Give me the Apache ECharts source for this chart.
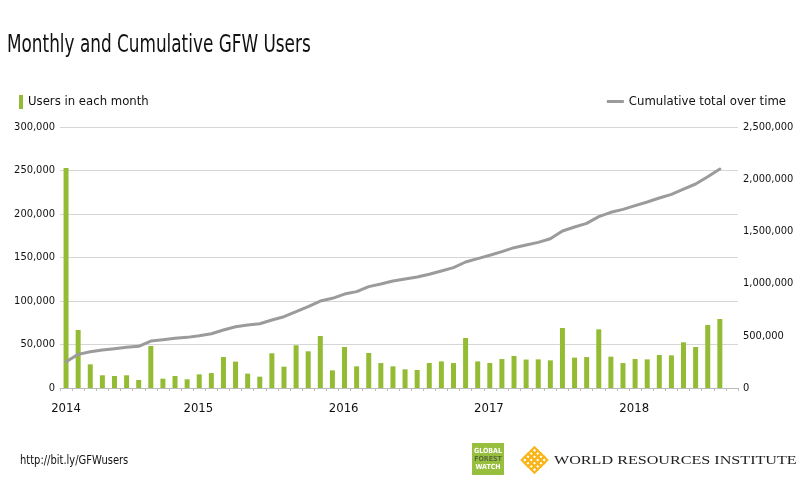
<!DOCTYPE html>
<html>
<head>
<meta charset="utf-8">
<script src="https://cdn.jsdelivr.net/npm/echarts@6/dist/echarts.min.js"></script>
<style>html,body{margin:0;padding:0;background:#fff}#c{width:801px;height:498px}</style>
</head>
<body>
<div id="c"></div>
<script>
var months = ['2014-01','2014-02','2014-03','2014-04','2014-05','2014-06','2014-07','2014-08','2014-09','2014-10','2014-11','2014-12',
'2015-01','2015-02','2015-03','2015-04','2015-05','2015-06','2015-07','2015-08','2015-09','2015-10','2015-11','2015-12',
'2016-01','2016-02','2016-03','2016-04','2016-05','2016-06','2016-07','2016-08','2016-09','2016-10','2016-11','2016-12',
'2017-01','2017-02','2017-03','2017-04','2017-05','2017-06','2017-07','2017-08','2017-09','2017-10','2017-11','2017-12',
'2018-01','2018-02','2018-03','2018-04','2018-05','2018-06','2018-07','2018-08'];
var monthlyUsers = [253000,66700,27200,14600,13800,14600,9200,48300,10700,13800,10000,15700,
17200,35600,30300,16500,13000,39900,24500,49100,42200,59800,20300,47100,
24900,40200,28700,24900,21500,20700,28700,30600,28700,57500,30600,28700,
33300,36800,32700,32900,31800,69000,34900,35600,67400,36000,28700,33300,
32900,37900,37500,52500,47100,72400,79300];
var cumulativeUsers = [252000,322000,348000,364000,377000,390000,399000,450000,463000,476000,485000,501000,
520000,556000,587000,603000,616000,651000,683000,731000,779000,833000,859000,900000,
923000,971000,996000,1025000,1044000,1063000,1089000,1121000,1153000,1207000,1239000,1271000,
1306000,1344000,1370000,1395000,1430000,1504000,1542000,1577000,1641000,1683000,1711000,1747000,
1782000,1820000,1855000,1906000,1954000,2024000,2098000];
var leftTicks = [0,50000,100000,150000,200000,250000,300000];
var rightTicks = [0,500000,1000000,1500000,2000000,2500000];

var FONT = "'DejaVu Sans Condensed','Roboto',sans-serif";
var fmt = function(v){ return Number(v).toLocaleString('en-US'); };
var chart = echarts.init(document.getElementById('c'));

// WRI lattice
var lattice = [];
var s = 4.5;
for (var r = 0; r < 4; r++) for (var q = 0; q < 4; q++) {
  lattice.push({type:'rect', shape:{x:q*s - 2*s, y:r*s - 2*s, width:s, height:s},
    style:{fill:'none', stroke:'#f8b51c', lineWidth:2.2}});
}

chart.setOption({
  animation:false,
  legend:[
    {data:['Users in each month'], left:14, top:90, icon:'rect', itemWidth:4, itemHeight:14, itemGap:6,
      textStyle:{fontFamily:FONT, fontSize:13, color:'#111'}},
    {data:['Cumulative total over time'], right:10, top:90, icon:'rect', itemWidth:17, itemHeight:3, itemGap:5,
      textStyle:{fontFamily:FONT, fontSize:13, color:'#111'}}
  ],
  grid:{left:60, right:63, top:127, bottom:110},
  xAxis:{type:'category', data:months, boundaryGap:true,
    axisLine:{lineStyle:{color:'#bbb', width:1}},
    axisTick:{show:true, interval:0, length:3, lineStyle:{color:'#bbb'}},
    axisLabel:{interval:function(i){return i % 12 === 0;}, margin:14, color:'#111', fontFamily:FONT, fontSize:13,
      formatter:function(v, i){ var y = v.slice(0,4); return i === 0 ? y : '{s|' + y + '}'; },
      rich:{s:{padding:[0,26,0,0], fontFamily:FONT, fontSize:13, color:'#111'}}}},
  yAxis:[
    {type:'value', min:leftTicks[0], max:leftTicks[leftTicks.length-1], interval:leftTicks[1]-leftTicks[0],
      axisLine:{show:false}, axisTick:{show:false},
      axisLabel:{formatter:fmt, margin:5, color:'#111', fontFamily:FONT, fontSize:11},
      splitLine:{lineStyle:{color:'#d6d6d6', width:1}}},
    {type:'value', min:rightTicks[0], max:rightTicks[rightTicks.length-1], interval:rightTicks[1]-rightTicks[0],
      axisLine:{show:false}, axisTick:{show:false}, splitLine:{show:false},
      axisLabel:{formatter:fmt, margin:5, color:'#111', fontFamily:FONT, fontSize:11}}
  ],
  series:[
    {name:'Users in each month', type:'bar', yAxisIndex:0, data:monthlyUsers, barWidth:5,
      itemStyle:{color:'#93bc34'}},
    {name:'Cumulative total over time', type:'line', yAxisIndex:1, data:cumulativeUsers, symbol:'none',
      lineStyle:{color:'#9b9b9b', width:3, cap:'round'}, itemStyle:{color:'#9b9b9b'}}
  ],
  graphic:[
    {type:'text', x:7, y:33, scaleX:0.75, style:{text:'Monthly and Cumulative GFW Users', fontFamily:FONT, fontSize:25, fill:'#111', textVerticalAlign:'top'}},
    {type:'text', x:20, y:454, scaleX:0.85, style:{text:'http://bit.ly/GFWusers', fontFamily:FONT, fontSize:13, fill:'#111', textVerticalAlign:'top'}},
    {type:'group', x:472, y:443, children:[
      {type:'rect', shape:{x:0, y:0, width:32, height:32}, style:{fill:'#97bf3d'}},
      {type:'text', x:16, y:8, style:{text:'GLOBAL', fontFamily:FONT, fontWeight:'bold', fontSize:7, fill:'#fff', align:'center', verticalAlign:'middle'}},
      {type:'text', x:16, y:16, style:{text:'FOREST', fontFamily:FONT, fontWeight:'bold', fontSize:7, fill:'#5b6b3c', align:'center', verticalAlign:'middle'}},
      {type:'text', x:16, y:24, style:{text:'WATCH', fontFamily:FONT, fontWeight:'bold', fontSize:7, fill:'#fff', align:'center', verticalAlign:'middle'}}
    ]},
    {type:'group', x:534.5, y:460, rotation:Math.PI/4, children:lattice},
    {type:'text', x:554, y:454, scaleX:1.24, style:{text:'WORLD RESOURCES INSTITUTE', fontFamily:"'Liberation Serif','DejaVu Serif',serif", fontSize:13, fill:'#222', textVerticalAlign:'top'}}
  ]
});
</script>
</body>
</html>
